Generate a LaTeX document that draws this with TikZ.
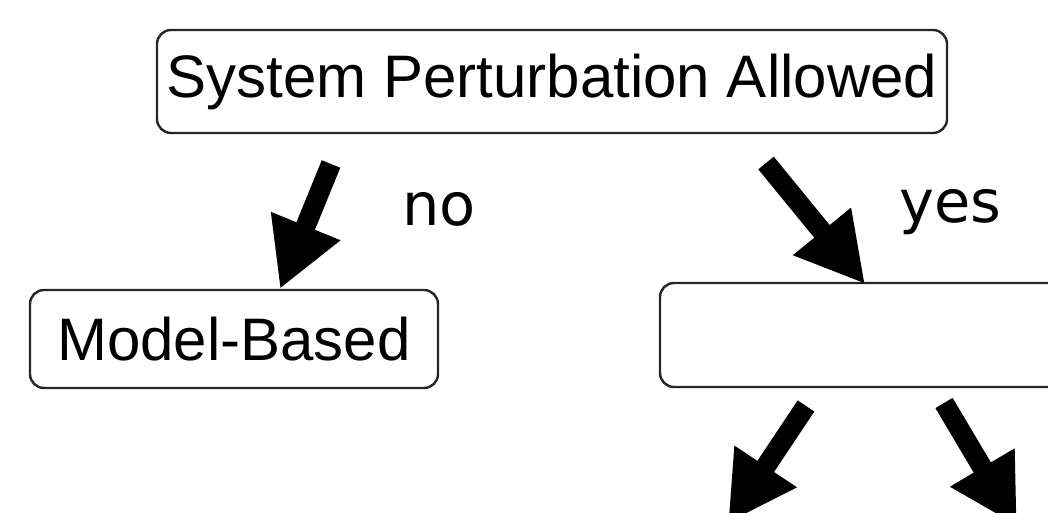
\documentclass[tikz,border=0pt]{standalone}
\usepackage{fontspec}
\setmainfont{Liberation Sans}
\newfontfamily\dejavu{DejaVu Sans}
\usetikzlibrary{arrows.meta}
\tikzset{
  box/.style={draw=black!85, line width=2.4pt, rounded corners=14pt, inner sep=0pt, fill=white,
    font=\fontsize{60}{72}\selectfont},
  bigarrow/.style={line width=20pt, -{Triangle[length=68pt,width=70pt]}},
  lbl/.style={font=\dejavu\fontsize{59}{70}\selectfont, inner sep=0pt, anchor=base west}
}
\begin{document}
\begin{tikzpicture}[x=1pt,y=-1pt]
\useasboundingbox (0,0) rectangle (1048,513);
\clip (0,0) rectangle (1048,513);
\node[box, minimum width=790pt, minimum height=103pt] (top) at (552,81.5) {System Perturbation Allowed};
\node[box, minimum width=408pt, minimum height=98pt] (mb) at (234,339) {Model-Based};
\node[box, minimum width=700pt, minimum height=104pt] (yesbox) at (1010,335) {};
\node[lbl] (no) at (402,225) {no};
\node[lbl] (yes) at (899,222) {yes};
\coordinate (noTail) at (331,164);
\coordinate (noTip) at (280,289);
\coordinate (yesTail) at (766,163);
\coordinate (yesTip) at (865,284);
\coordinate (llTail) at (806,406);
\coordinate (llTip) at (728,523);
\coordinate (lrTail) at (944,403);
\coordinate (lrTip) at (1017,526);
\draw[bigarrow] (noTail) -- (noTip);
\draw[bigarrow] (yesTail) -- (yesTip);
\draw[bigarrow] (llTail) -- (llTip);
\draw[bigarrow] (lrTail) -- (lrTip);
\end{tikzpicture}
\end{document}
